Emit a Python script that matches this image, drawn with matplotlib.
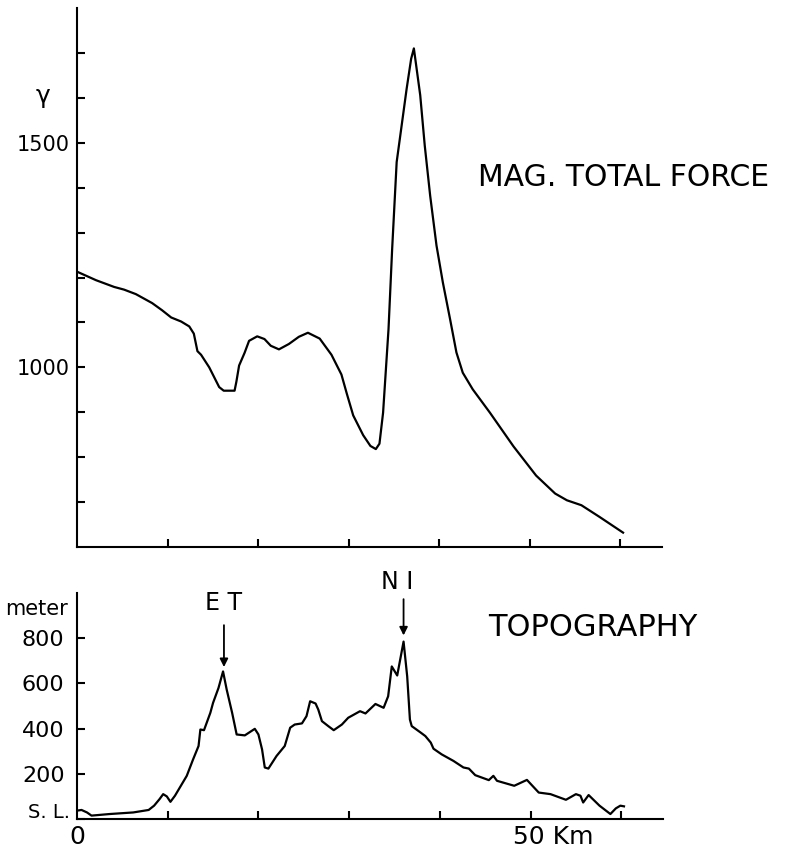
import numpy as np
import matplotlib
matplotlib.use('Agg')
import matplotlib.pyplot as plt

plt.rcParams['font.family'] = ['DejaVu Sans']

# magnetic total force profile (km, gamma)
mag_km = [0.0, 2.1, 4.1, 5.2, 6.5, 8.3, 9.4, 10.4, 11.5, 12.4, 12.9, 13.3, 13.7,
          14.6, 15.7, 16.2, 17.4, 17.6, 17.9, 18.5, 19.0, 19.9, 20.7, 21.4, 22.3,
          23.4, 24.5, 25.5, 26.8, 28.1, 29.2, 29.8, 30.5, 31.6, 32.4, 33.0, 33.4,
          33.8, 34.4, 34.8, 35.3, 35.8, 36.4, 36.9, 37.2, 37.9, 38.4, 39.0, 39.7,
          40.4, 41.2, 41.9, 42.6, 43.7, 45.6, 48.2, 50.7, 52.8, 54.1, 55.7, 57.7, 60.3]
mag_val = [1213, 1194, 1179, 1173, 1163, 1143, 1127, 1111, 1102, 1091, 1075, 1036, 1028,
           1000, 956, 948, 948, 968, 1004, 1032, 1059, 1069, 1063, 1048, 1040,
           1052, 1068, 1077, 1064, 1028, 984, 941, 893, 849, 825, 818, 830,
           899, 1085, 1263, 1457, 1531, 1620, 1687, 1710, 1606, 1494, 1382, 1271,
           1189, 1107, 1033, 988, 951, 899, 824, 759, 719, 704, 693, 667, 632]

# topography profile (km, meter)
topo_km = [0.0, 0.5, 1.1, 1.6, 3.6, 6.2, 7.9, 8.5, 9.1, 9.5, 9.9, 10.3, 10.8, 12.1,
           12.8, 13.4, 13.6, 14.0, 14.7, 15.0, 15.6, 16.1, 16.5, 17.1, 17.6, 18.5,
           19.6, 20.0, 20.4, 20.7, 21.1, 22.0, 22.9, 23.5, 24.0, 24.8, 25.3, 25.7,
           26.3, 26.6, 27.0, 27.7, 28.3, 29.2, 29.9, 31.2, 31.8, 32.9, 33.8, 34.3,
           34.7, 35.3, 36.0, 36.4, 36.7, 36.9, 37.9, 38.4, 39.0, 39.3, 40.2, 41.5,
           42.6, 43.2, 43.9, 45.4, 45.9, 46.3, 48.2, 49.6, 50.9, 52.2, 53.9, 55.0,
           55.5, 55.8, 56.4, 57.6, 58.8, 59.4, 59.9, 60.3]
topo_val = [37, 40, 29, 15, 22, 29, 40, 59, 88, 110, 100, 76, 103, 191,
            264, 323, 396, 393, 470, 514, 580, 653, 573, 470, 374, 370,
            399, 374, 308, 228, 223, 279, 323, 404, 418, 423, 455, 521,
            511, 484, 433, 411, 393, 418, 448, 477, 467, 509, 492, 543,
            675, 635, 785, 631, 440, 411, 382, 367, 338, 311, 286, 257,
            228, 223, 194, 172, 191, 169, 147, 173, 117, 110, 85, 110,
            103, 73, 106, 59, 22, 47, 59, 56]

mag_ticks = [700, 800, 900, 1000, 1100, 1200, 1300, 1400, 1500, 1600, 1700]
mag_labels = ['', '', '', '1000', '', '', '', '', '1500', '', '']
topo_ticks = [0, 200, 400, 600, 800]
topo_labels = ['', '200', '400', '600', '800']
km_ticks = [10, 20, 30, 40, 50, 60]

W, H = 788, 851
fig = plt.figure(figsize=(W / 100, H / 100), dpi=100)
ax1 = fig.add_axes([77 / W, 1 - 547 / H, 585 / W, 539 / H])
ax2 = fig.add_axes([77 / W, 1 - 819 / H, 586 / W, 226 / H])

for ax in (ax1, ax2):
    for s in ('top', 'right'):
        ax.spines[s].set_visible(False)
    for s in ('left', 'bottom'):
        ax.spines[s].set_linewidth(1.5)
    ax.set_xlim(0, 64.6)
    ax.set_xticks(km_ticks)
    ax.set_xticklabels([])
    ax.tick_params(direction='in', length=6, width=1.5, labelsize=15)

ax1.plot(mag_km, mag_val, color='black', lw=1.6)
ax1.set_ylim(600, 1800)
ax1.set_yticks(mag_ticks)
ax1.set_yticklabels(mag_labels)
ax1.tick_params(axis='y', pad=5)
ax1.text(-3.8, 1603, 'γ', fontsize=18, ha='center', va='center')
fig.text(478 / W, 1 - 177 / H, 'MAG. TOTAL FORCE', fontsize=21.5, ha='left', va='center')

ax2.plot(topo_km, topo_val, color='black', lw=1.6)
ax2.set_ylim(0, 1000)
ax2.set_yticks(topo_ticks)
ax2.set_yticklabels(topo_labels)
ax2.tick_params(axis='y', pad=9, labelsize=16)
ax2.text(-1.0, 930, 'meter', fontsize=15, ha='right', va='center')
ax2.text(-0.8, 28, 'S. L.', fontsize=14, ha='right', va='center')
ax2.text(0, -80, '0', fontsize=18, ha='center', va='center', clip_on=False)
ax2.text(48.1, -80, '50 Km', fontsize=18, ha='left', va='center', clip_on=False)
fig.text(488 / W, 1 - 628 / H, 'TOPOGRAPHY', fontsize=22, ha='left', va='center')

ax2.annotate('', xy=(16.2, 660), xytext=(16.2, 870),
             arrowprops=dict(arrowstyle='-|>', color='black', lw=1.3, mutation_scale=12))
ax2.text(16.2, 955, 'E T', fontsize=17, ha='center', va='center')
ax2.annotate('', xy=(36.0, 800), xytext=(36.0, 985), annotation_clip=False,
             arrowprops=dict(arrowstyle='-|>', color='black', lw=1.3, mutation_scale=12))
ax2.text(35.3, 1050, 'N I', fontsize=17, ha='center', va='center', clip_on=False)

fig.savefig('out.png', dpi=100)
